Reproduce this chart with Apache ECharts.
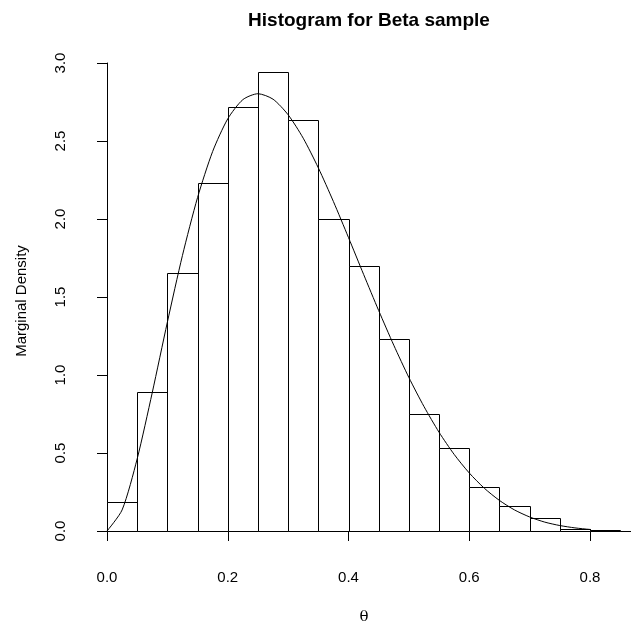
<!DOCTYPE html>
<html>
<head>
<meta charset="utf-8">
<script src="https://cdn.jsdelivr.net/npm/echarts@6/dist/echarts.min.js"></script>
<style>html,body{margin:0;padding:0;background:#fff}#c{width:631px;height:630px}</style>
</head>
<body>
<div id="c"></div>
<script>
// Histogram bin edges (left, right) and densities
var binLeft  = [0.00,0.05,0.10,0.15,0.20,0.25,0.30,0.35,0.40,0.45,0.50,0.55,0.60,0.65,0.70,0.75,0.80,0.85];
var binRight = [0.05,0.10,0.15,0.20,0.25,0.30,0.35,0.40,0.45,0.50,0.55,0.60,0.65,0.70,0.75,0.80,0.85,0.90];
var density  = [0.188,0.893,1.654,2.229,2.720,2.940,2.633,1.998,1.700,1.229,0.748,0.530,0.284,0.160,0.081,0.013,0.008,0.000];

// Density curve points
var curveX = [0,0.025,0.05,0.075,0.1,0.125,0.15,0.175,0.2,0.225,0.25,0.275,0.3,0.325,0.35,0.375,0.4,0.425,0.45,0.475,0.5,0.525,0.55,0.575,0.6,0.625,0.65,0.675,0.7,0.725,0.75,0.775,0.8,0.825,0.85];
var curveY = [0,0.135,0.463,0.888,1.339,1.767,2.138,2.433,2.642,2.765,2.803,2.768,2.668,2.518,2.328,2.112,1.881,1.645,1.413,1.191,0.984,0.798,0.633,0.491,0.372,0.274,0.196,0.135,0.090,0.057,0.035,0.020,0.010,0.005,0.002];

var xTicks = [0,0.2,0.4,0.6,0.8];
var yTicks = [0,0.5,1.0,1.5,2.0,2.5,3.0];

var titleText = 'Histogram for Beta sample';
var xLabel = 'θ';
var yLabel = 'Marginal Density';

var FONT = '"Liberation Sans", Arial, Helvetica, sans-serif';

var bins = binLeft.map(function(l,i){ return [l, binRight[i], density[i]]; });
var curve = curveX.map(function(x,i){ return [x, curveY[i]]; });

var chart = echarts.init(document.getElementById('c'), null, {renderer:'canvas'});
chart.setOption({
  backgroundColor:'#ffffff',
  animation:false,
  title:{
    text:titleText, left:'364', top:6, textAlign:'center',
    textStyle:{fontFamily:FONT, fontSize:19, fontWeight:'bold', color:'#000'}
  },
  grid:{left:107, right:41, top:63, bottom:99, containLabel:false},
  xAxis:{
    type:'value', min:xTicks[0], max:xTicks[xTicks.length-1], interval:0.2,
    offset:18,
    axisLine:{show:true, lineStyle:{color:'#000', width:1}},
    axisTick:{show:true, length:10, lineStyle:{color:'#000', width:1}},
    axisLabel:{show:true, margin:21, color:'#000', fontFamily:FONT, fontSize:15,
      formatter:function(v){ return v.toFixed(1); }},
    splitLine:{show:false}
  },
  yAxis:{
    type:'value', min:yTicks[0], max:yTicks[yTicks.length-1], interval:0.5,
    offset:19,
    axisLine:{show:true, lineStyle:{color:'#000', width:1}},
    axisTick:{show:true, length:10, lineStyle:{color:'#000', width:1}},
    axisLabel:{show:true, rotate:90, margin:20, color:'#000', fontFamily:FONT, fontSize:15,
      formatter:function(v){ return v.toFixed(1); }},
    splitLine:{show:false}
  },
  graphic:[
    {type:'text', x:22, y:301, rotation:Math.PI/2,
     style:{text:yLabel, fontFamily:FONT, fontSize:15, fill:'#000', textAlign:'center', textVerticalAlign:'middle'}},
    {type:'text', x:364, y:617,
     style:{text:xLabel, fontFamily:'"DejaVu Serif", serif', fontSize:15, fill:'#000', textAlign:'center', textVerticalAlign:'middle'}}
  ],
  series:[
    {
      type:'custom', clip:false, z:2,
      data:bins,
      encode:{x:[0,1], y:2},
      renderItem:function(params, api){
        var p0 = api.coord([api.value(0), 0]);
        var p1 = api.coord([api.value(1), api.value(2)]);
        var x0 = Math.round(p0[0]) + 0.5, x1 = Math.round(p1[0]) + 0.5;
        var y0 = Math.round(p0[1]) + 0.5, y1 = Math.round(p1[1]) + 0.5;
        return {type:'rect', shape:{x:x0, y:y1, width:x1-x0, height:y0-y1},
          style:{fill:'#ffffff', stroke:'#000000', lineWidth:1}};
      }
    },
    {
      type:'line', clip:false, z:3, data:curve, showSymbol:false, symbol:'none',
      smooth:0.25,
      lineStyle:{color:'#000', width:1}
    }
  ]
});
</script>
</body>
</html>
